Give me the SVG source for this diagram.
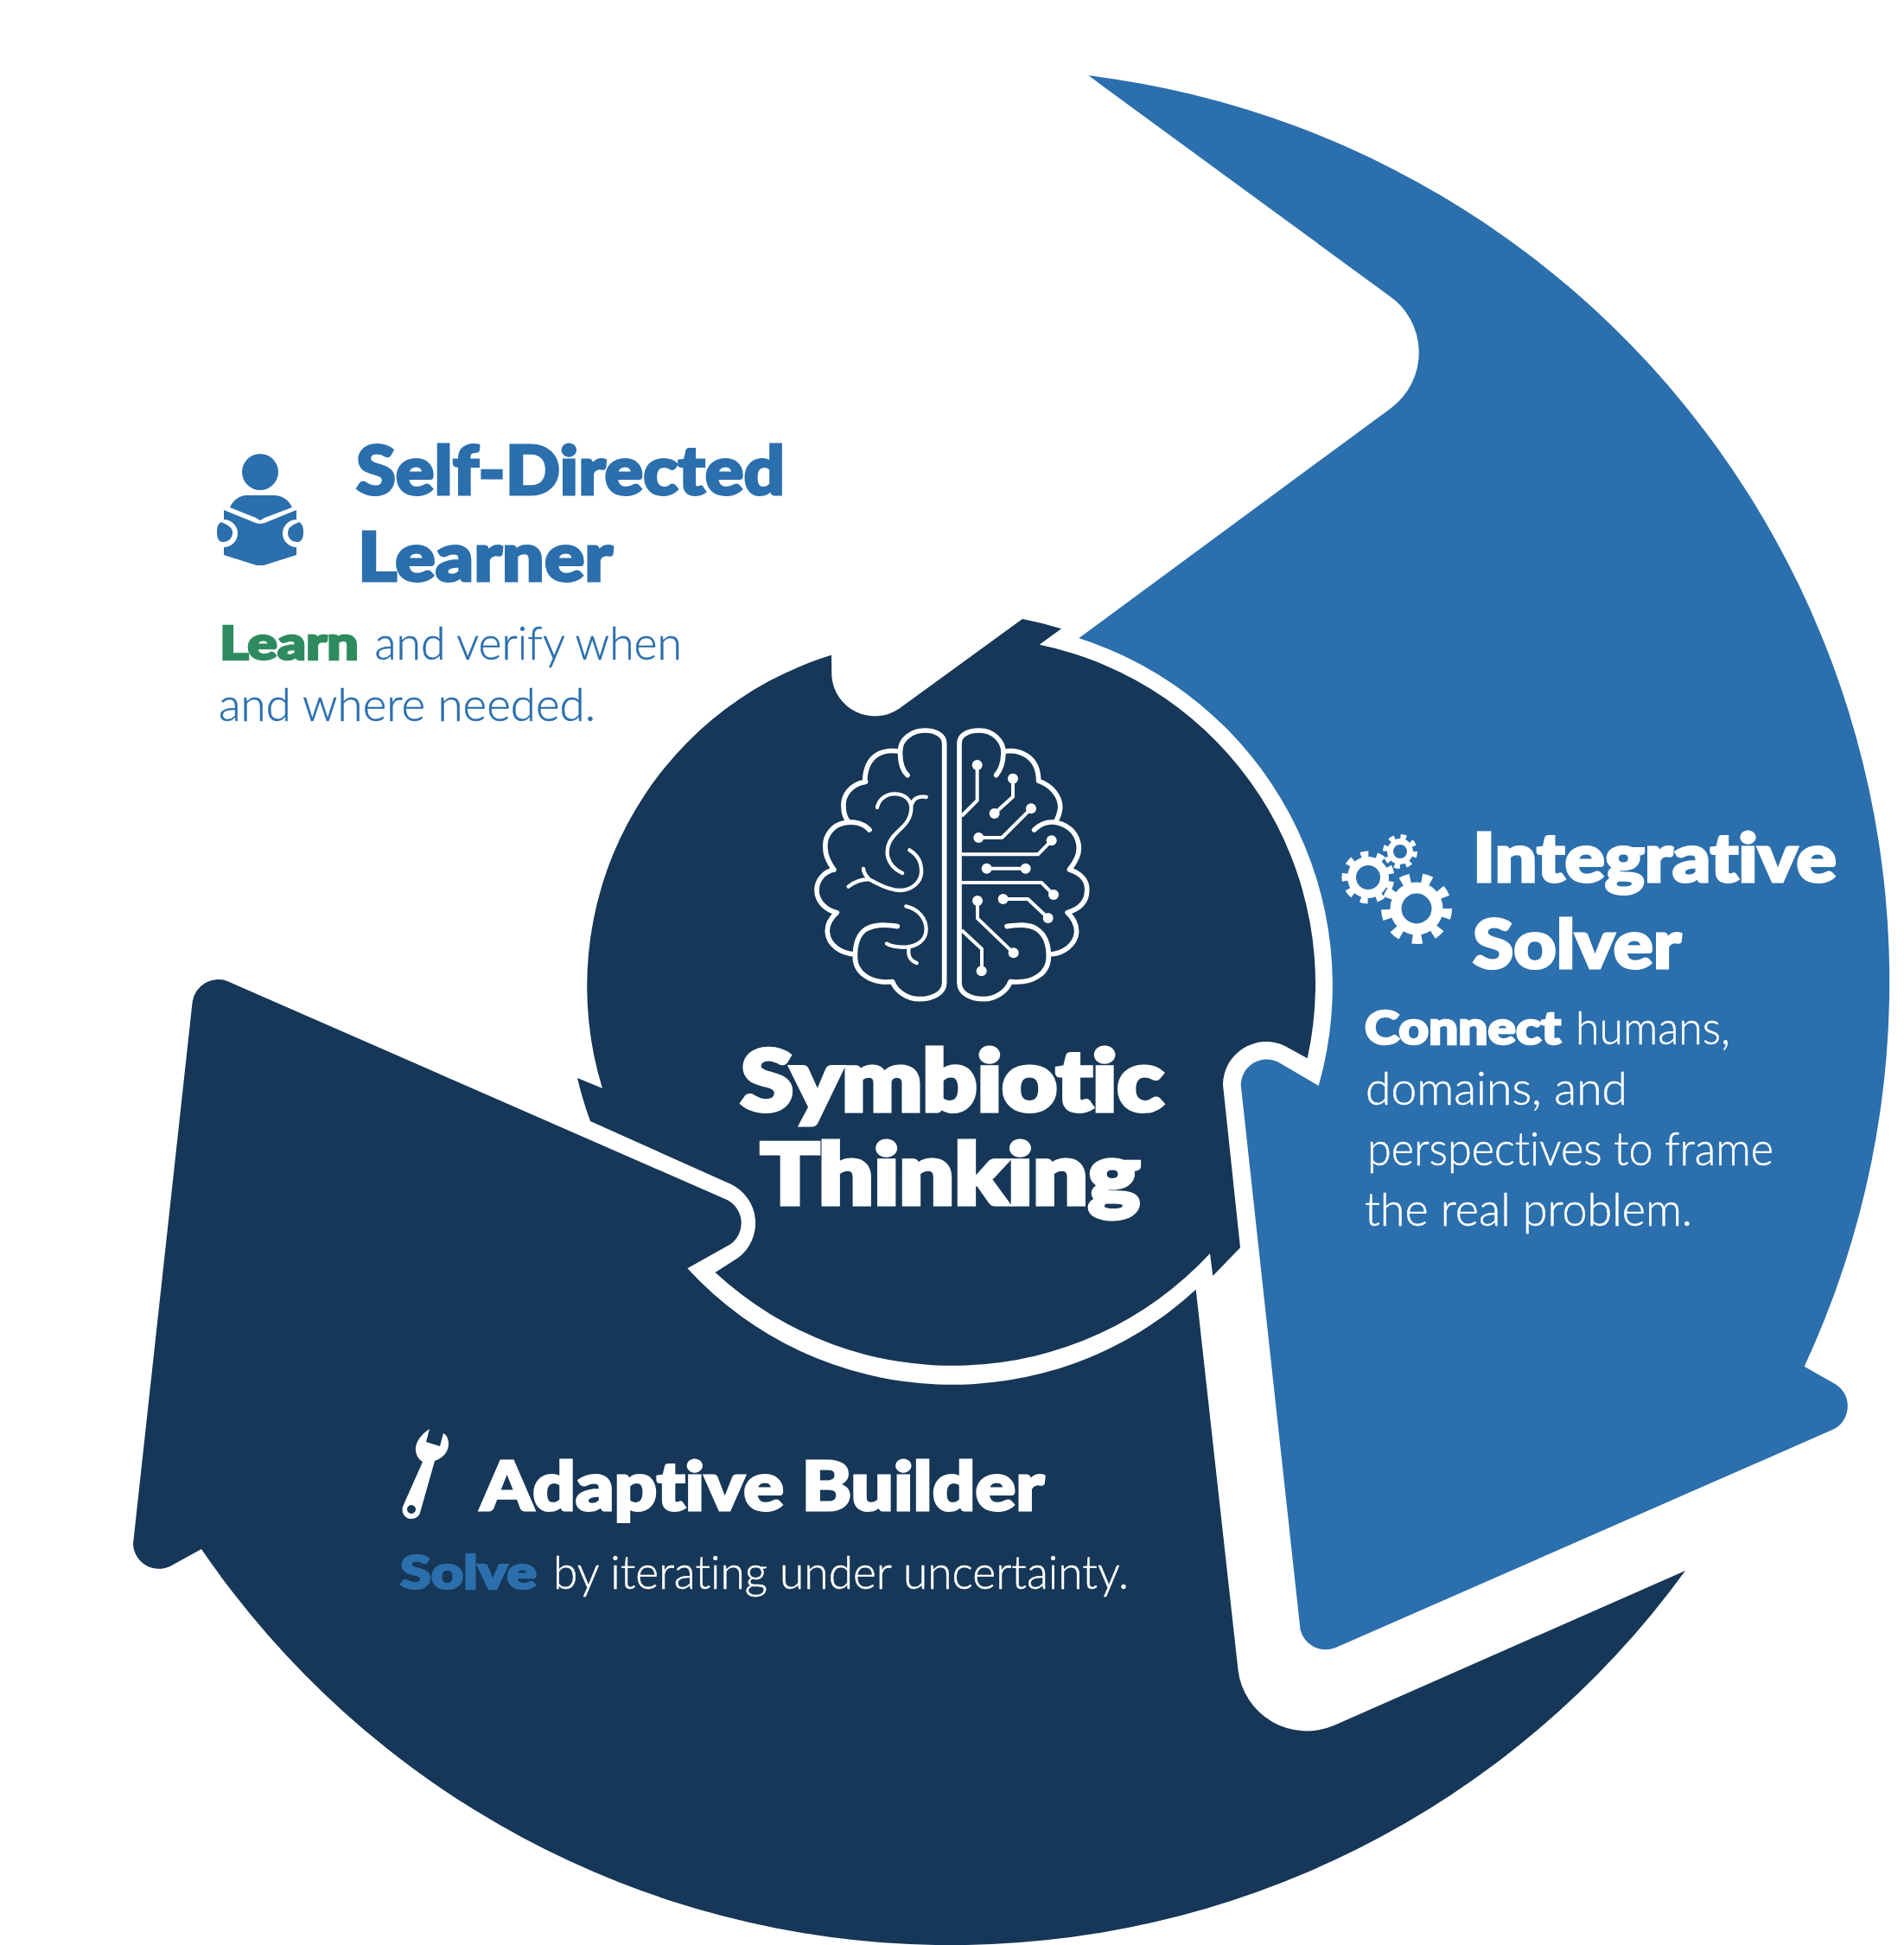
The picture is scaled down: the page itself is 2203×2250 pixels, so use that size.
<svg xmlns="http://www.w3.org/2000/svg" width="2203" height="2250" viewBox="0 0 2203 2250">
<style>
.dark{fill:#163757}.blue{fill:#2B6FAD}.white{fill:#fff}
text{font-family:"Lato","Liberation Sans",sans-serif;font-variant-ligatures:none}
.h{font-weight:900;font-size:78px;stroke-width:3px}
.t{font-weight:900;font-size:98px;fill:#fff;stroke:#fff;stroke-width:5px}
.b{font-weight:300;font-size:54px;stroke-width:.5px}
.k{font-weight:900;stroke-width:2.5px}
.bw{fill:#fff;stroke:#fff}.bb{fill:#2B6FAD;stroke:#2B6FAD}
.gr{fill:#2E8B5F;stroke:#2E8B5F}
.br{fill:none;stroke:#fff;stroke-width:17;stroke-linecap:round;stroke-linejoin:round}
.br2{fill:none;stroke:#fff;stroke-width:13;stroke-linecap:round;stroke-linejoin:round}
.ci{fill:none;stroke:#fff;stroke-width:12;stroke-linejoin:round}
.nd{fill:#fff}
.g{fill:none;stroke:#fff}
</style>
<rect width="2203" height="2250" fill="#fff"/>
<g id="integrative-solver">
<path class="blue" d="M1259.3,87.3A1056,1056 0 0 1 2087.7,1580.7L2123.3,1601A30,30 0 0 1 2121.7,1653.3L1545.4,1906A30,30 0 0 1 1504.5,1885L1435.7,1255A30,30 0 0 1 1478.3,1228.3L1525.7,1256A422,422 0 0 0 1248.3,738.3L1610,471.7A80,80 0 0 0 1606.7,341.7Z"/>
<g id="gears">
<circle class="g" cx="1639" cy="1051" r="24" stroke-width="13"/>
<circle class="g" cx="1639" cy="1051" r="35" stroke-width="12" stroke-dasharray="11 13.4"/>
<circle class="g" cx="1583" cy="1015" r="19" stroke-width="10"/>
<circle class="g" cx="1583" cy="1015" r="26" stroke-width="9" stroke-dasharray="8.5 9.65" transform="rotate(10 1583 1015)"/>
<circle class="g" cx="1620" cy="985" r="11.5" stroke-width="7"/>
<circle class="g" cx="1620" cy="985" r="17" stroke-width="6" stroke-dasharray="6.5 6.85"/>
</g>
<text class="h bw" x="1704" y="1020" textLength="421" lengthAdjust="spacingAndGlyphs">Integrative</text>
<text class="h bw" x="1704" y="1120" textLength="241" lengthAdjust="spacingAndGlyphs">Solver</text>
<text class="b bw" y="1208"><tspan class="k" x="1579" textLength="227" lengthAdjust="spacingAndGlyphs">Connect</tspan><tspan x="1823" textLength="179" lengthAdjust="spacingAndGlyphs">humans,</tspan></text>
<text class="b bw" x="1580" y="1278" textLength="303" lengthAdjust="spacingAndGlyphs">domains, and</text>
<text class="b bw" x="1582" y="1348" textLength="470" lengthAdjust="spacingAndGlyphs">perspectives to frame</text>
<text class="b bw" x="1579" y="1418" textLength="379" lengthAdjust="spacingAndGlyphs">the real problem.</text>
</g>
<g id="adaptive-builder">
<path class="dark" d="M1950,1817A1050,1050 0 0 1 233,1792L196.7,1812A30,30 0 0 1 154,1786L222.7,1158.5A30,30 0 0 1 263,1135L839,1387A30,30 0 0 1 844,1440L795.4,1467.3A416,416 0 0 0 1383.7,1491.7L1432.5,1931.7A80,80 0 0 0 1543.5,1996Z"/>
<path id="wrench" class="white" fill-rule="evenodd" d="M497,1653C486,1660 480,1670 481,1678C482,1686 486,1689 489,1691L466,1743C464,1752 470,1757 476,1757C481,1757 485,1754 486,1750L503,1690C512,1687 519,1680 519,1670C519,1665 517,1660 513,1658L509,1673L493,1668ZM476,1741a5,5 0 1 0 .01,0Z"/>
<text class="h bw" x="556" y="1746.7" textLength="652" lengthAdjust="spacingAndGlyphs">Adaptive Builder</text>
<text class="b bw" y="1838"><tspan class="k bb" x="463" textLength="158" lengthAdjust="spacingAndGlyphs">Solve</tspan><tspan x="640" textLength="666" lengthAdjust="spacingAndGlyphs">by iterating under uncertainty.</tspan></text>
</g>
<g id="symbiotic-thinking">
<path class="dark" d="M697,1259A401,401 0 0 1 962,757.7L962.3,781.7A50,50 0 0 0 1040,820L1183,716A428,428 0 0 1 1228,727.3L1202.7,745.7A401,401 0 0 1 1512.7,1224.3L1486.7,1210A50,50 0 0 0 1415,1255L1435,1443.3L1403.3,1476L1400,1450A405,405 0 0 1 827.6,1472L854,1455A50,50 0 0 0 846,1370L683,1297A428,428 0 0 1 668,1247Z"/>
<g id="brain" transform="translate(900 800) scale(.33333)">
<path class="br" d="M578 1010L578 180C578 150 545 135 510 135C465 135 425 165 425 205C423 240 430 270 450 290M418 207C370 200 305 215 302 310M305 313C250 320 225 365 228 400C228 420 235 440 245 452M318 480C295 455 260 450 235 455C190 462 160 500 165 545C165 570 180 600 195 618C160 625 135 655 135 690C135 730 170 760 205 767C185 785 170 810 172 835C175 880 220 910 268 912M415 815C380 810 340 805 305 825C275 845 268 885 268 920C268 975 320 1015 398 1007C410 1040 450 1067 490 1067C540 1067 578 1045 578 1010"/>
<path class="br2" d="M345 402C350 375 375 355 405 355C440 355 460 375 463 400C465 440 440 465 415 487C385 515 375 545 382 575C390 605 410 620 432 630M515 366C490 362 470 370 463 395M457 550C490 570 500 600 498 630C495 665 460 690 425 690C390 690 350 670 318 652C305 640 298 630 297 615M245 677C265 660 295 650 318 652M445 745C490 755 515 790 515 825C515 865 480 885 445 887C420 888 395 885 378 875M455 890C450 915 460 935 482 942"/>
<path class="br" d="M630 1010L630 180C630 150 660 135 700 135C745 135 785 170 783 215C782 245 775 270 758 290M790 207C840 200 905 225 905 310C950 325 982 365 980 405C978 420 975 435 965 450M890 480C915 455 945 450 970 455C1015 465 1045 500 1045 545C1045 570 1030 595 1012 618C1050 630 1075 655 1073 690C1073 730 1045 755 1005 767C1025 785 1037 810 1037 835C1033 880 990 910 945 912M795 815C830 810 870 805 900 825C930 845 940 885 940 920C940 975 890 1015 807 1007C795 1040 755 1067 715 1067C665 1067 630 1045 630 1010"/>
<path class="ci" d="M692 255V378L638 432M816 302V365L752 423M879 406L778 507H697M638 565H903L950 517M725 614H860M638 663H915L957 705M782 720H868L938 786M693 726V787L818 907M638 828L708 893V970"/>
<g class="nd">
<circle cx="692" cy="255" r="18"/><circle cx="816" cy="302" r="18"/><circle cx="752" cy="423" r="18"/><circle cx="879" cy="406" r="18"/><circle cx="697" cy="507" r="18"/><circle cx="950" cy="517" r="18"/><circle cx="725" cy="614" r="18"/><circle cx="860" cy="614" r="18"/><circle cx="957" cy="705" r="18"/><circle cx="782" cy="720" r="18"/><circle cx="938" cy="786" r="18"/><circle cx="693" cy="726" r="18"/><circle cx="818" cy="907" r="18"/><circle cx="707" cy="970" r="18"/>
</g>
</g>
<text class="t" x="857" y="1285" textLength="489" lengthAdjust="spacingAndGlyphs">Symbiotic</text>
<text class="t" x="880" y="1392.7" textLength="439" lengthAdjust="spacingAndGlyphs">Thinking</text>
</g>
<g id="self-directed-learner">
<g id="reader" class="blue">
<circle cx="301" cy="546" r="21"/>
<path d="M266,587C270,578 278,573 285,573H317C326,573 334,578 338,587L306,599L301,602L296,599Z"/>
<path d="M259,590L296,605L301,606L306,605L343,590V601A16,16 0 0 0 343,633V642L305,654H297L259,642V633A16,16 0 0 0 259,601Z"/>
<path d="M256,604C263,607 269,610 269,616C269,623 264,627 258,627C253,627 251,622 251,616C251,610 252,606 256,604Z"/>
<path d="M346,604C339,607 333,610 333,616C333,623 338,627 344,627C349,627 351,622 351,616C351,610 350,606 346,604Z"/>
</g>
<text class="h bb" x="412" y="571.7" textLength="496" lengthAdjust="spacingAndGlyphs">Self-Directed</text>
<text class="h bb" x="414" y="671.7" textLength="295" lengthAdjust="spacingAndGlyphs">Learner</text>
<text class="b bb" y="763"><tspan class="k gr" x="254" textLength="161" lengthAdjust="spacingAndGlyphs">Learn</tspan><tspan x="433.5" textLength="355.5" lengthAdjust="spacingAndGlyphs">and verify when</tspan></text>
<text class="b bb" x="253" y="834" textLength="436" lengthAdjust="spacingAndGlyphs">and where needed.</text>
</g>
</svg>
